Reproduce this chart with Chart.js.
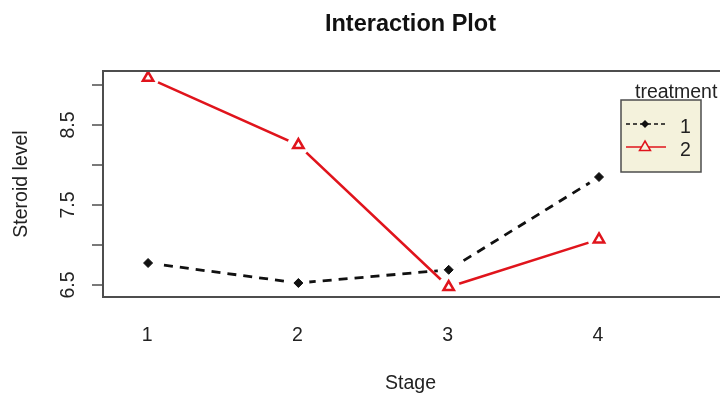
<!DOCTYPE html>
<html>
<head>
<meta charset="utf-8">
<script src="https://cdn.jsdelivr.net/npm/chart.js@4.4.1/dist/chart.umd.min.js"></script>
<style>
  html, body { margin: 0; padding: 0; background: #ffffff; }
  #wrap { width: 720px; height: 394px; position: relative; }
</style>
</head>
<body>
<div id="wrap"><canvas id="c" width="720" height="394"></canvas></div>
<script>
// Mean steroid level per stage for each treatment group
const stages = ['1', '2', '3', '4'];
const stagePositions = [1, 2, 3, 4];
const treatment1 = [6.775, 6.525, 6.69, 7.85];
const treatment2 = [9.09, 8.25, 6.475, 7.07];
const treatmentNames = ['1', '2'];

// Y axis ticks (every other tick carries a label)
const yTickValues = [6.5, 7, 7.5, 8, 8.5, 9];
const yTickLabels = ['6.5', '', '7.5', '', '8.5', ''];

const chartTitle = 'Interaction Plot';
const xTitle = 'Stage';
const yTitle = 'Steroid level';
const legendTitle = 'treatment';

const FONT = '"Liberation Sans", Arial, sans-serif';
const INK = '#222222';
const FRAME = '#4d4d4d';
const BLACK = '#111111';
const RED = '#e0141c';

const toPoints = vals => stagePositions.map((x, i) => ({ x: x, y: vals[i] }));

// white discs under each marker leave the small gap around points (type "b" look)
const gapDisc = (vals, order) => ({
  data: toPoints(vals), showLine: false, order: order,
  pointRadius: 11, pointBackgroundColor: '#ffffff', pointBorderColor: '#ffffff', pointBorderWidth: 0
});

const decorations = {
  id: 'decorations',
  afterDraw(chart) {
    const ctx = chart.ctx;
    const a = chart.chartArea;
    const xs = chart.scales.x, ys = chart.scales.y;
    ctx.save();

    // plot frame (left, top, bottom)
    ctx.strokeStyle = FRAME;
    ctx.lineWidth = 2;
    ctx.beginPath();
    ctx.moveTo(a.right + 2, a.top);
    ctx.lineTo(a.left, a.top);
    ctx.lineTo(a.left, a.bottom);
    ctx.lineTo(a.right + 2, a.bottom);
    ctx.stroke();

    // y ticks and rotated labels
    ctx.lineWidth = 1.5;
    ctx.fillStyle = INK;
    ctx.font = '19.5px ' + FONT;
    yTickValues.forEach((v, i) => {
      const py = ys.getPixelForValue(v);
      ctx.beginPath();
      ctx.moveTo(a.left - 11, py);
      ctx.lineTo(a.left, py);
      ctx.stroke();
      if (yTickLabels[i]) {
        ctx.save();
        ctx.translate(74, py);
        ctx.rotate(-Math.PI / 2);
        ctx.textAlign = 'center';
        ctx.textBaseline = 'alphabetic';
        ctx.fillText(yTickLabels[i], 0, 0);
        ctx.restore();
      }
    });

    // x labels
    ctx.textAlign = 'center';
    ctx.textBaseline = 'alphabetic';
    stages.forEach((s, i) => {
      ctx.fillText(s, xs.getPixelForValue(stagePositions[i]) - 1, 341);
    });

    // axis titles
    const cx = (a.left + a.right) / 2;
    ctx.fillText(xTitle, cx - 1, 389);
    ctx.save();
    ctx.translate(27, (a.top + a.bottom) / 2);
    ctx.rotate(-Math.PI / 2);
    ctx.fillText(yTitle, 0, 0);
    ctx.restore();

    // main title
    ctx.font = 'bold 23.5px ' + FONT;
    ctx.fillStyle = '#111111';
    ctx.fillText(chartTitle, cx - 1, 31);

    // legend
    const L = { left: 621, top: 100, right: 701, bottom: 172 };
    ctx.fillStyle = '#f4f2dc';
    ctx.fillRect(L.left, L.top, L.right - L.left, L.bottom - L.top);
    ctx.strokeStyle = FRAME;
    ctx.lineWidth = 1.5;
    ctx.strokeRect(L.left, L.top, L.right - L.left, L.bottom - L.top);

    ctx.fillStyle = INK;
    ctx.font = '19.5px ' + FONT;
    ctx.textAlign = 'left';
    ctx.fillText(legendTitle, 635, 98);

    const rows = [
      { y: 124, color: BLACK, dash: [4, 3], marker: 'diamond' },
      { y: 147, color: RED, dash: [], marker: 'triangle' }
    ];
    rows.forEach((r, i) => {
      ctx.strokeStyle = r.color;
      ctx.lineWidth = 1.5;
      ctx.setLineDash(r.dash);
      ctx.beginPath();
      ctx.moveTo(626, r.y);
      ctx.lineTo(666, r.y);
      ctx.stroke();
      ctx.setLineDash([]);
      const mx = 645;
      if (r.marker === 'diamond') {
        ctx.fillStyle = r.color;
        ctx.beginPath();
        ctx.moveTo(mx, r.y - 4);
        ctx.lineTo(mx + 4, r.y);
        ctx.lineTo(mx, r.y + 4);
        ctx.lineTo(mx - 4, r.y);
        ctx.closePath();
        ctx.fill();
      } else {
        ctx.fillStyle = '#f4f2dc';
        ctx.beginPath();
        ctx.moveTo(mx, r.y - 6);
        ctx.lineTo(mx + 5.5, r.y + 3.5);
        ctx.lineTo(mx - 5.5, r.y + 3.5);
        ctx.closePath();
        ctx.fill();
        ctx.stroke();
      }
      ctx.fillStyle = INK;
      ctx.fillText(treatmentNames[i], 680, r.y + 9);
    });

    ctx.restore();
  }
};

new Chart(document.getElementById('c'), {
  type: 'scatter',
  data: {
    datasets: [
      // treatment 1: dashed black with filled diamonds
      { label: treatmentNames[0], data: toPoints(treatment1), showLine: true, order: 6,
        borderColor: BLACK, borderWidth: 2.8, borderDash: [9, 7], pointRadius: 0, fill: false },
      gapDisc(treatment1, 5),
      { data: toPoints(treatment1), showLine: false, order: 4,
        pointStyle: 'rectRot', pointRadius: 4.5, pointBackgroundColor: BLACK,
        pointBorderColor: BLACK, pointBorderWidth: 1 },
      // treatment 2: solid red with open triangles
      { label: treatmentNames[1], data: toPoints(treatment2), showLine: true, order: 3,
        borderColor: RED, borderWidth: 2.5, pointRadius: 0, fill: false },
      gapDisc(treatment2, 2),
      { data: toPoints(treatment2), showLine: false, order: 1,
        pointStyle: 'triangle', pointRadius: 6, pointBackgroundColor: 'rgba(255,255,255,0)',
        pointBorderColor: RED, pointBorderWidth: 2.5 }
    ]
  },
  options: {
    responsive: false,
    animation: false,
    devicePixelRatio: 1,
    events: [],
    layout: { autoPadding: false, padding: { left: 103, top: 71, right: 0, bottom: 97 } },
    scales: {
      x: { type: 'linear', min: 0.7, max: 4.805, display: false },
      y: { type: 'linear', min: 6.35, max: 9.175, display: false }
    },
    plugins: {
      legend: { display: false },
      title: { display: false },
      tooltip: { enabled: false }
    }
  },
  plugins: [decorations]
});
</script>
</body>
</html>
